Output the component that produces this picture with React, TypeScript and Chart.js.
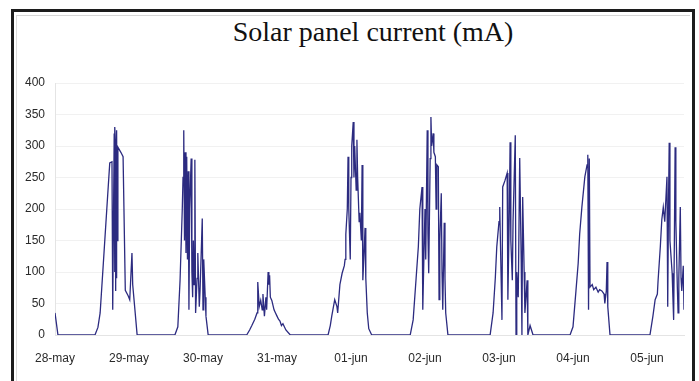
import React, { useEffect, useRef } from "react";
import { Chart, registerables } from "chart.js";

Chart.register(...registerables);

const chartTitle = "Solar panel current (mA)";
const dayLabels = ["28-may", "29-may", "30-may", "31-may", "01-jun", "02-jun", "03-jun", "04-jun", "05-jun"];
const yTicks = [0, 50, 100, 150, 200, 250, 300, 350, 400];

// time in days since 28-may (label positions), current in mA
const sampleDays = [
  0.00, 0.04, 0.54, 0.58, 0.61, 0.65, 0.70, 0.74, 0.77, 0.78, 0.80, 0.805, 0.81, 0.815, 0.82, 0.825, 0.83, 0.835, 0.84, 0.85, 0.89, 0.92, 0.95, 0.99, 1.01, 1.04, 1.05, 1.08, 1.11,
  1.62, 1.66, 1.69, 1.72, 1.73, 1.74, 1.75, 1.76, 1.77, 1.78, 1.79, 1.80, 1.81, 1.82, 1.84, 1.85, 1.86, 1.87, 1.88, 1.89, 1.90, 1.92, 1.93, 1.95, 1.96, 1.99, 2.00, 2.01, 2.03, 2.04, 2.07,
  2.59, 2.63, 2.66, 2.70, 2.73, 2.74, 2.76, 2.78, 2.80, 2.81, 2.83, 2.85, 2.86, 2.88, 2.89, 2.90, 2.91, 2.93, 2.96, 2.98, 3.00, 3.02, 3.04, 3.06, 3.08, 3.12, 3.18,
  3.69, 3.72, 3.74, 3.78, 3.81, 3.82, 3.85, 3.88, 3.91, 3.92, 3.93, 3.95, 3.96, 3.97, 3.99, 4.00, 4.01, 4.03, 4.04, 4.05, 4.07, 4.08, 4.09, 4.11, 4.12, 4.14, 4.15, 4.16, 4.18, 4.19, 4.20, 4.22, 4.24, 4.28,
  4.80, 4.84, 4.88, 4.91, 4.93, 4.96, 4.97, 4.99, 5.00, 5.01, 5.03, 5.04, 5.05, 5.07, 5.08, 5.09, 5.11, 5.12, 5.14, 5.15, 5.16, 5.18, 5.19, 5.20, 5.22, 5.23, 5.24, 5.26, 5.27, 5.28, 5.31,
  5.88, 5.92, 5.95, 5.97, 6.00, 6.01, 6.04, 6.05, 6.08, 6.11, 6.12, 6.14, 6.15, 6.16, 6.18, 6.19, 6.22, 6.23, 6.24, 6.26, 6.28, 6.30, 6.31, 6.32, 6.34, 6.35, 6.38, 6.39, 6.42, 6.46,
  6.96, 7.00, 7.04, 7.07, 7.09, 7.12, 7.16, 7.19, 7.20, 7.21, 7.22, 7.23, 7.26, 7.28, 7.31, 7.34, 7.36, 7.39, 7.42, 7.43, 7.45, 7.46, 7.47, 7.50,
  8.04, 8.08, 8.11, 8.14, 8.15, 8.18, 8.20, 8.22, 8.24, 8.27, 8.28, 8.29, 8.30, 8.31, 8.34, 8.35, 8.36, 8.37, 8.38, 8.39, 8.41, 8.42, 8.43, 8.45, 8.46, 8.47, 8.49, 8.50,
];

const currentMA = [
  35, 0, 0, 12, 35, 108, 200, 273, 275, 40, 320, 100, 330, 310, 70, 300, 90, 325, 150, 298, 290, 283, 71, 62, 56, 130, 80, 40, 0,
  0, 13, 87, 200, 250, 325, 150, 290, 130, 283, 120, 260, 40, 200, 280, 100, 60, 150, 80, 278, 35, 90, 130, 45, 70, 185, 40, 120, 60, 30, 0,
  0, 8, 15, 25, 35, 84, 45, 55, 40, 65, 30, 60, 40, 100, 80, 95, 60, 55, 40, 35, 30, 25, 22, 15, 18, 8, 0,
  0, 15, 30, 56, 45, 35, 80, 98, 110, 120, 160, 200, 283, 200, 120, 250, 300, 338, 250, 300, 230, 310, 250, 180, 194, 150, 270, 87, 140, 170, 90, 35, 10, 0,
  0, 24, 90, 140, 200, 235, 40, 150, 200, 120, 325, 160, 98, 280, 346, 300, 320, 290, 283, 200, 270, 267, 56, 150, 225, 100, 40, 178, 90, 35, 0,
  0, 35, 90, 140, 180, 203, 24, 235, 245, 257, 56, 200, 306, 150, 87, 180, 317, 0, 100, 60, 281, 120, 0, 219, 100, 35, 87, 0, 15, 0,
  0, 13, 70, 114, 160, 203, 251, 270, 286, 40, 280, 76, 80, 72, 76, 68, 72, 70, 65, 50, 70, 116, 45, 0,
  0, 30, 56, 65, 87, 140, 183, 203, 180, 251, 45, 200, 305, 150, 98, 60, 24, 150, 298, 180, 76, 35, 90, 203, 90, 70, 110, 40,
];

export default function App() {
  const canvasRef = useRef<HTMLCanvasElement | null>(null);

  useEffect(() => {
    const canvas = canvasRef.current;
    if (!canvas) return;
    const points = sampleDays.map((d, i) => ({ x: d, y: currentMA[i] }));
    const chart = new Chart(canvas, {
      type: "line",
      data: {
        datasets: [
          {
            data: points,
            borderColor: "#2c2b80",
            borderWidth: 1.3,
            pointRadius: 0,
            tension: 0,
            fill: false,
          },
        ],
      },
      options: {
        animation: false,
        responsive: false,
        maintainAspectRatio: false,
        layout: { padding: { top: 83, right: 15, bottom: 0, left: 0 } },
        plugins: {
          legend: { display: false },
          title: { display: false },
          tooltip: { enabled: false },
        },
        scales: {
          x: {
            type: "linear",
            min: 0,
            max: 8.5,
            grid: { display: false, drawTicks: false },
            border: { display: true, color: "#e4e4e4" },
            ticks: {
              stepSize: 1,
              includeBounds: false,
              autoSkip: false,
              maxRotation: 0,
              padding: 16,
              color: "#2a2a2a",
              font: { family: "'Liberation Sans', Arial, sans-serif", size: 12 },
              callback: (v: any) => {
                const n = Number(v);
                return Number.isInteger(n) && dayLabels[n] ? dayLabels[n] : "";
              },
            },
            afterFit: (scale: any) => {
              scale.height = 46;
            },
          },
          y: {
            min: 0,
            max: 400,
            grid: { color: "#f1f1f1", drawTicks: false, lineWidth: 1 },
            border: { display: true, color: "#e4e4e4" },
            afterBuildTicks: (scale: any) => {
              scale.ticks = yTicks.map((v) => ({ value: v }));
            },
            ticks: {
              padding: 10,
              color: "#2a2a2a",
              font: { family: "'Liberation Sans', Arial, sans-serif", size: 12 },
            },
            afterFit: (scale: any) => {
              scale.width = 55;
            },
          },
        },
      },
    });
    return () => chart.destroy();
  }, []);

  return (
    <div style={{ position: "fixed", left: 0, top: 0, width: 699, height: 381, background: "#fff", overflow: "hidden" }}>
      <div
        style={{
          position: "absolute",
          left: 11,
          top: 9,
          width: 684,
          height: 400,
          boxSizing: "border-box",
          border: "3px solid #1c1c1c",
        }}
      >
        <div
          style={{
            position: "absolute",
            left: 2,
            top: 3,
            right: 2,
            bottom: 0,
            borderTop: "1px solid #d6d6d6",
            borderLeft: "1px solid #dcdcdc",
          }}
        />
      </div>
      <div
        style={{
          position: "absolute",
          left: 373,
          top: 16,
          transform: "translateX(-50%)",
          whiteSpace: "nowrap",
          fontFamily: "'Liberation Serif', 'Times New Roman', serif",
          fontSize: 28,
          lineHeight: "32px",
          color: "#111",
        }}
      >
        {chartTitle}
      </div>
      <canvas ref={canvasRef} width={699} height={381} style={{ position: "absolute", left: 0, top: 0, width: 699, height: 381 }} />
    </div>
  );
}
